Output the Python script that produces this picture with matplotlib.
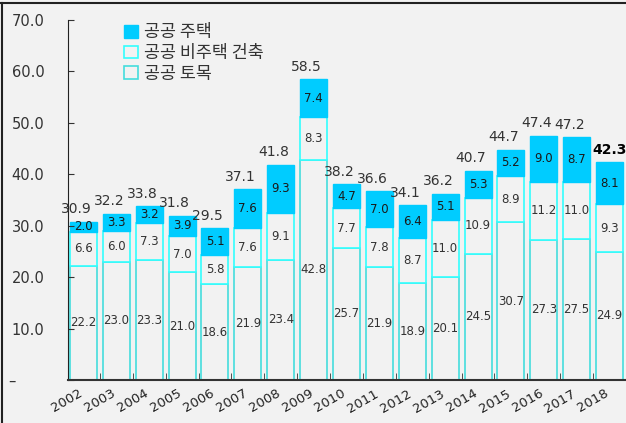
import matplotlib.pyplot as plt
from matplotlib.patches import Patch
from matplotlib.lines import Line2D

years = [str(y) for y in range(2002, 2019)]
civil = [22.2, 23.0, 23.3, 21.0, 18.6, 21.9, 23.4, 42.8, 25.7, 21.9, 18.9, 20.1, 24.5, 30.7, 27.3, 27.5, 24.9]
nonhouse = [6.6, 6.0, 7.3, 7.0, 5.8, 7.6, 9.1, 8.3, 7.7, 7.8, 8.7, 11.0, 10.9, 8.9, 11.2, 11.0, 9.3]
house = [2.0, 3.3, 3.2, 3.9, 5.1, 7.6, 9.3, 7.4, 4.7, 7.0, 6.4, 5.1, 5.3, 5.2, 9.0, 8.7, 8.1]
totals = [30.9, 32.2, 33.8, 31.8, 29.5, 37.1, 41.8, 58.5, 38.2, 36.6, 34.1, 36.2, 40.7, 44.7, 47.4, 47.2, 42.3]
labels = ['공공 주택', '공공 비주택 건축', '공공 토목']

bg = '#F2F2F2'
cyan = '#00CCFF'
edge_mid = '#33FFFF'
edge_bot = '#44DDDD'

fig = plt.figure(figsize=(6.26, 4.23), dpi=100, facecolor=bg)
ax = fig.add_axes([68/626, 1-380/423, 1-68/626, 360/423])
ax.set_facecolor(bg)

x = list(range(len(years)))
w = 0.82
mid_base = civil
top_base = [c + n for c, n in zip(civil, nonhouse)]

ax.bar(x, civil, w, color=bg, edgecolor=edge_bot, linewidth=1.2)
ax.bar(x, nonhouse, w, bottom=mid_base, color=bg, edgecolor=edge_mid, linewidth=1.2)
ax.bar(x, house, w, bottom=top_base, color=cyan, edgecolor=cyan, linewidth=1.0)

for i in x:
    ax.text(i, civil[i] / 2, f'{civil[i]:.1f}', ha='center', va='center', fontsize=8.5, color='#333333')
    ax.text(i, mid_base[i] + nonhouse[i] / 2, f'{nonhouse[i]:.1f}', ha='center', va='center', fontsize=8.5, color='#333333')
    ax.text(i, top_base[i] + house[i] / 2, f'{house[i]:.1f}', ha='center', va='center', fontsize=8.5, color='#1a1a1a')
    last = i == len(years) - 1
    ax.annotate(f'{totals[i]:.1f}', (i - 0.22 if not last else i, top_base[i] + house[i]),
                xytext=(0, 4), textcoords='offset points', ha='center', va='bottom',
                fontsize=10, color='black' if last else '#333333',
                fontweight='bold' if last else 'normal')

ax.set_xlim(-0.47, 16.44)
ax.set_ylim(0, 70)
ax.set_yticks(range(0, 71, 10))
ax.set_yticklabels(['–      '] + [f'{v:.1f}' for v in range(10, 71, 10)], fontsize=10.5, color='#333333')
ax.tick_params(axis='y', direction='in', length=4, pad=17, color='#333333')

ax.set_xticks([i - 0.15 for i in x])
ax.set_xticklabels(years, rotation=30, ha='right', rotation_mode='anchor', fontsize=9.5, color='#222222')
ax.tick_params(axis='x', which='major', length=0, pad=5)
ax.set_xticks([i + 0.5 for i in x], minor=True)
ax.tick_params(axis='x', which='minor', direction='in', length=5, color='#333333')

for s in ['top', 'right']:
    ax.spines[s].set_visible(False)
ax.spines['left'].set_color('#222222')
ax.spines['bottom'].set_color('#333333')
ax.spines['bottom'].set_linewidth(1.5)

handles = [Patch(facecolor=cyan, edgecolor=cyan),
           Patch(facecolor=bg, edgecolor=edge_mid, linewidth=1.2),
           Patch(facecolor=bg, edgecolor=edge_bot, linewidth=1.2)]
ax.legend(handles, labels, loc='upper left', bbox_to_anchor=(0.095, 1.0), frameon=False,
          borderaxespad=0, borderpad=0.2, handlelength=0.75, handleheight=0.75,
          handletextpad=0.4, labelspacing=0.15,
          prop={'family': 'Noto Sans CJK KR', 'size': 12.5}, labelcolor='#333333')

fig.add_artist(Line2D([0, 1], [1 - 3/423, 1 - 3/423], color='#222222', lw=1.5, transform=fig.transFigure))
fig.add_artist(Line2D([2/626, 2/626], [0, 1 - 3/423], color='#222222', lw=1.5, transform=fig.transFigure))

fig.savefig('out.png', dpi=100, facecolor=bg)
